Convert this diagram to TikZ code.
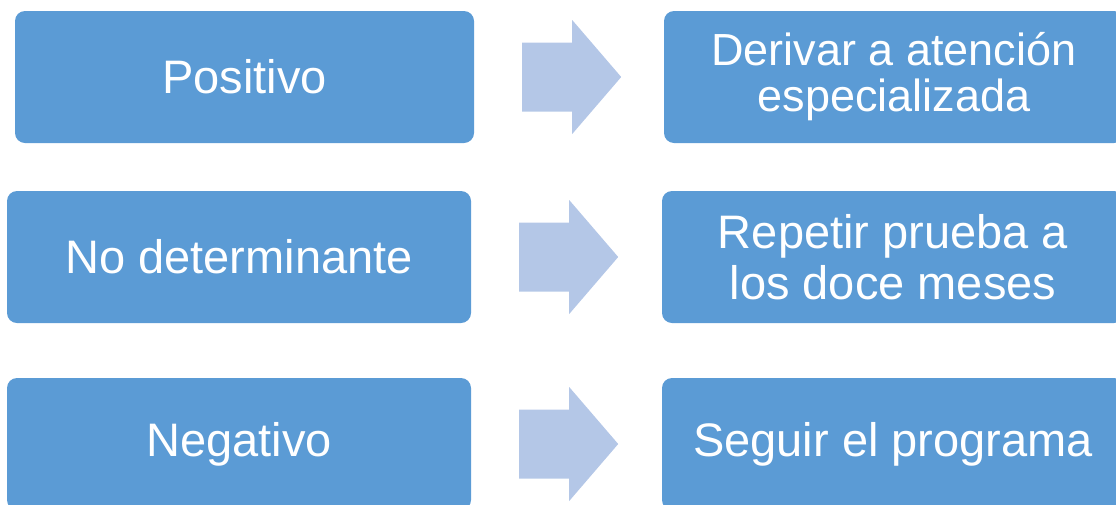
\documentclass[tikz,border=0pt]{standalone}
\usepackage{fontspec}
\setmainfont{Liberation Sans}
\definecolor{boxblue}{HTML}{5B9BD5}
\definecolor{arrowblue}{HTML}{B4C7E7}
\begin{document}
\begin{tikzpicture}[x=1pt,y=1pt,
  box/.style={fill=boxblue, draw=none, rounded corners=10pt, text=white,
    align=center, inner sep=0pt, minimum height=132pt,
    font=\fontsize{47pt}{51pt}\selectfont},
  smalltext/.style={font=\fontsize{45pt}{46pt}\selectfont},
  blockarrow/.style={fill=arrowblue, draw=none}]
\useasboundingbox (0,0) rectangle (1116,-504);
\clip (0,0) rectangle (1116,-504);
% left boxes
\node[box, minimum width=459pt] (l1) at (244.5,-77) {Positivo};
\node[box, minimum width=464pt] (l2) at (239,-257) {No determinante};
\node[box, minimum width=464pt] (l3) at (239,-444) {Negativo};
% right boxes
\node[box, smalltext, minimum width=460pt] (r1) at (894,-77) {Derivar a atención\\especializada};
\node[box, minimum width=462pt] (r2) at (893,-257) {Repetir prueba a\\los doce meses};
\node[box, minimum width=462pt] (r3) at (893,-444) {Seguir el programa};
% block arrows between boxes
\foreach \a in {1,2,3}{
  \path (l\a.east) ++(48,0) coordinate (s\a);
  \fill[blockarrow] (s\a) ++(0,34.5) -- ++(50,0) -- ++(0,22.5) -- ++(49,-57)
     -- ++(-49,-57) -- ++(0,22.5) -- ++(-50,0) -- cycle;
}
\end{tikzpicture}
\end{document}
